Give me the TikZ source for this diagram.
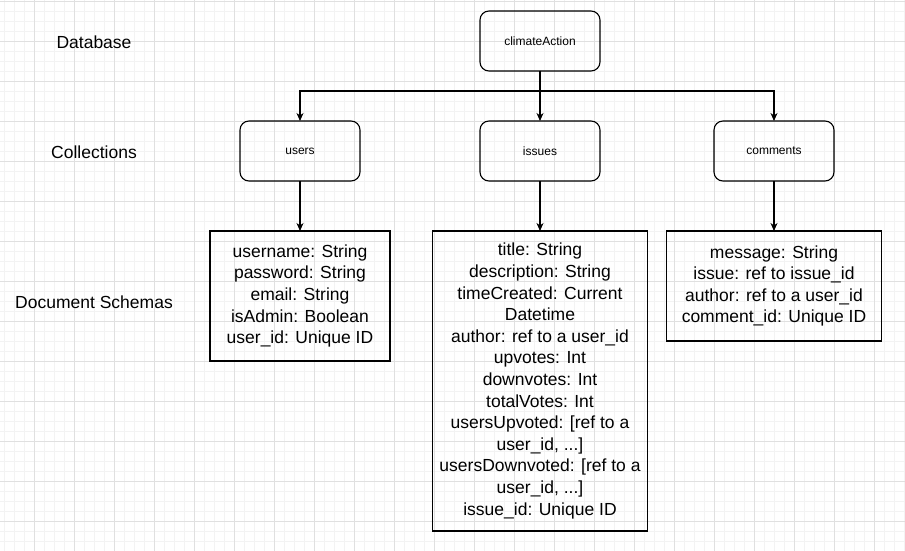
\documentclass[tikz,border=0pt]{standalone}
\usepackage{fontspec}
\setmainfont{Liberation Sans}
\usetikzlibrary{arrows.meta,positioning}
\definecolor{gridmajor}{HTML}{E0E0E0}
\definecolor{gridminor}{HTML}{F3F3F3}

\begin{document}
\begin{tikzpicture}[x=1pt,y=-1pt,line width=1.1pt,
  collection/.style={draw,rounded corners=9pt,minimum width=120pt,minimum height=60pt,
    inner sep=0pt,outer sep=0pt,font=\fontsize{12}{14}\selectfont},
  schema/.style={draw,inner sep=0pt,outer sep=0pt,align=center,
    font=\fontsize{17.5}{21.6}\selectfont},
  level/.style={font=\fontsize{17.5}{21}\selectfont},
  link/.style={-{Stealth[length=8pt,width=7pt,inset=2.5pt]}}]

\useasboundingbox (0,0) rectangle (905,551);
\fill[white] (0,0) rectangle (905,551);
% background grid
\foreach \x in {4.3,14.3,...,904.3} \draw[gridminor,line width=0.8pt] (\x,0) -- (\x,551);
\foreach \y in {1.7,11.7,...,551} \draw[gridminor,line width=0.8pt] (0,\y) -- (905,\y);
\foreach \x in {34.3,74.3,...,904.3} \draw[gridmajor,line width=0.8pt] (\x,0) -- (\x,551);
\foreach \y in {1.7,41.7,...,551} \draw[gridmajor,line width=0.8pt] (0,\y) -- (905,\y);

% layer labels
\node (dbLabel) [level] at (94,42) {Database};
\node (collLabel) [level] at (94,152) {Collections};
\node (schemaLabel) [level] at (94,302) {Document Schemas};

% database and collections
\node (climateAction) [collection] at (540,41) {climateAction};
\node (issues) [collection, below=50pt of climateAction] {issues};
\node (users) [collection, left=120pt of issues] {users};
\node (comments) [collection, right=114pt of issues] {comments};

% document schemas
\node (usersSchema) [schema, minimum width=180pt, minimum height=130pt, below=50pt of users]
{username: String\\password: String\\email: String\\isAdmin: Boolean\\user\_id: Unique ID};
\node (issuesSchema) [schema, minimum width=215pt, minimum height=300pt, below=50pt of issues]
{title: String\\description: String\\timeCreated: Current\\Datetime\\author: ref to a user\_id\\upvotes: Int\\downvotes: Int\\totalVotes: Int\\usersUpvoted: [ref to a\\user\_id, ...]\\usersDownvoted: [ref to a\\user\_id, ...]\\issue\_id: Unique ID};
\node (commentsSchema) [schema, minimum width=215pt, minimum height=110pt, below=50pt of comments]
{message: String\\issue: ref to issue\_id\\author: ref to a user\_id\\comment\_id: Unique ID};

\draw[link] (climateAction) -- (issues);
\draw[link] (climateAction.south) -- ++(0,20) -| (users.north);
\draw[link] (climateAction.south) -- ++(0,20) -| (comments.north);
\draw[link] (users) -- (usersSchema);
\draw[link] (issues) -- (issuesSchema);
\draw[link] (comments) -- (commentsSchema);
\end{tikzpicture}
\end{document}
